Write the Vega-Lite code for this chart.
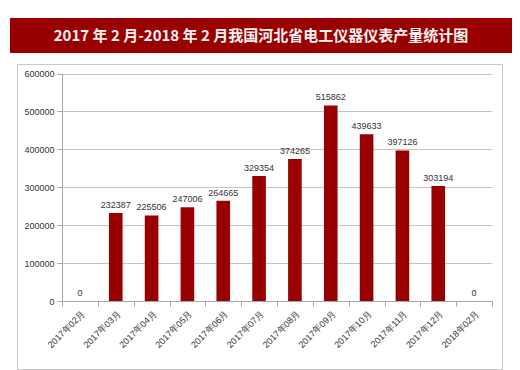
{
  "$schema": "https://vega.github.io/schema/vega-lite/v6.json",
  "padding": {"left": 10, "top": 18, "right": 0, "bottom": 0},
  "background": "white",
  "config": {"view": {"stroke": null}},
  "spacing": 10,
  "vconcat": [
    {
      "width": 488,
      "height": 21,
      "view": {"fill": "#990000", "stroke": "#990000", "strokeWidth": 14},
      "data": {"values": [{"t": "2017 年 2 月-2018 年 2 月我国河北省电工仪器仪表产量统计图"}]},
      "mark": {"type": "text", "font": "Noto Sans CJK SC", "fontWeight": "bold", "fontSize": 15, "color": "#fff4f4", "baseline": "middle", "align": "center"},
      "encoding": {"text": {"field": "t"}}
    },
    {
      "width": 485,
      "height": 305,
      "view": {"stroke": "#c8c8c8", "strokeWidth": 1},
      "data": {"values": [
        {"m": "2017年02月", "v": 0},
        {"m": "2017年03月", "v": 232387},
        {"m": "2017年04月", "v": 225506},
        {"m": "2017年05月", "v": 247006},
        {"m": "2017年06月", "v": 264665},
        {"m": "2017年07月", "v": 329354},
        {"m": "2017年08月", "v": 374265},
        {"m": "2017年09月", "v": 515862},
        {"m": "2017年10月", "v": 439633},
        {"m": "2017年11月", "v": 397126},
        {"m": "2017年12月", "v": 303194},
        {"m": "2018年02月", "v": 0}
      ]},
      "encoding": {
        "x": {"field": "m", "type": "nominal", "sort": null,
          "scale": {"paddingInner": 0, "paddingOuter": 0, "range": [45, 475]},
          "axis": {"title": null, "offset": -68, "labelAngle": -45, "labelFontSize": 9, "labelFont": "Liberation Sans", "labelColor": "#333333", "tickBand": "extent", "tickSize": 5, "tickColor": "#a6a6a6", "domainColor": "#a6a6a6", "labelPadding": 3}},
        "y": {"field": "v", "type": "quantitative",
          "scale": {"domain": [0, 600000], "nice": false, "range": [237, 9.5]},
          "axis": {"title": null, "offset": -45, "values": [0, 100000, 200000, 300000, 400000, 500000, 600000], "format": "d", "labelFontSize": 9, "labelFont": "Liberation Sans", "labelColor": "#333333", "gridColor": "#c4c4c4", "tickSize": 5, "tickColor": "#a6a6a6", "domainColor": "#a6a6a6", "labelPadding": 3}}
      },
      "layer": [
        {"mark": {"type": "bar", "color": "#990000", "width": {"band": 0.38}}},
        {"mark": {"type": "text", "baseline": "bottom", "dy": -3, "fontSize": 9, "font": "Liberation Sans", "color": "#333333"},
         "encoding": {"text": {"field": "v", "type": "quantitative", "format": "d"}}}
      ]
    }
  ]
}
